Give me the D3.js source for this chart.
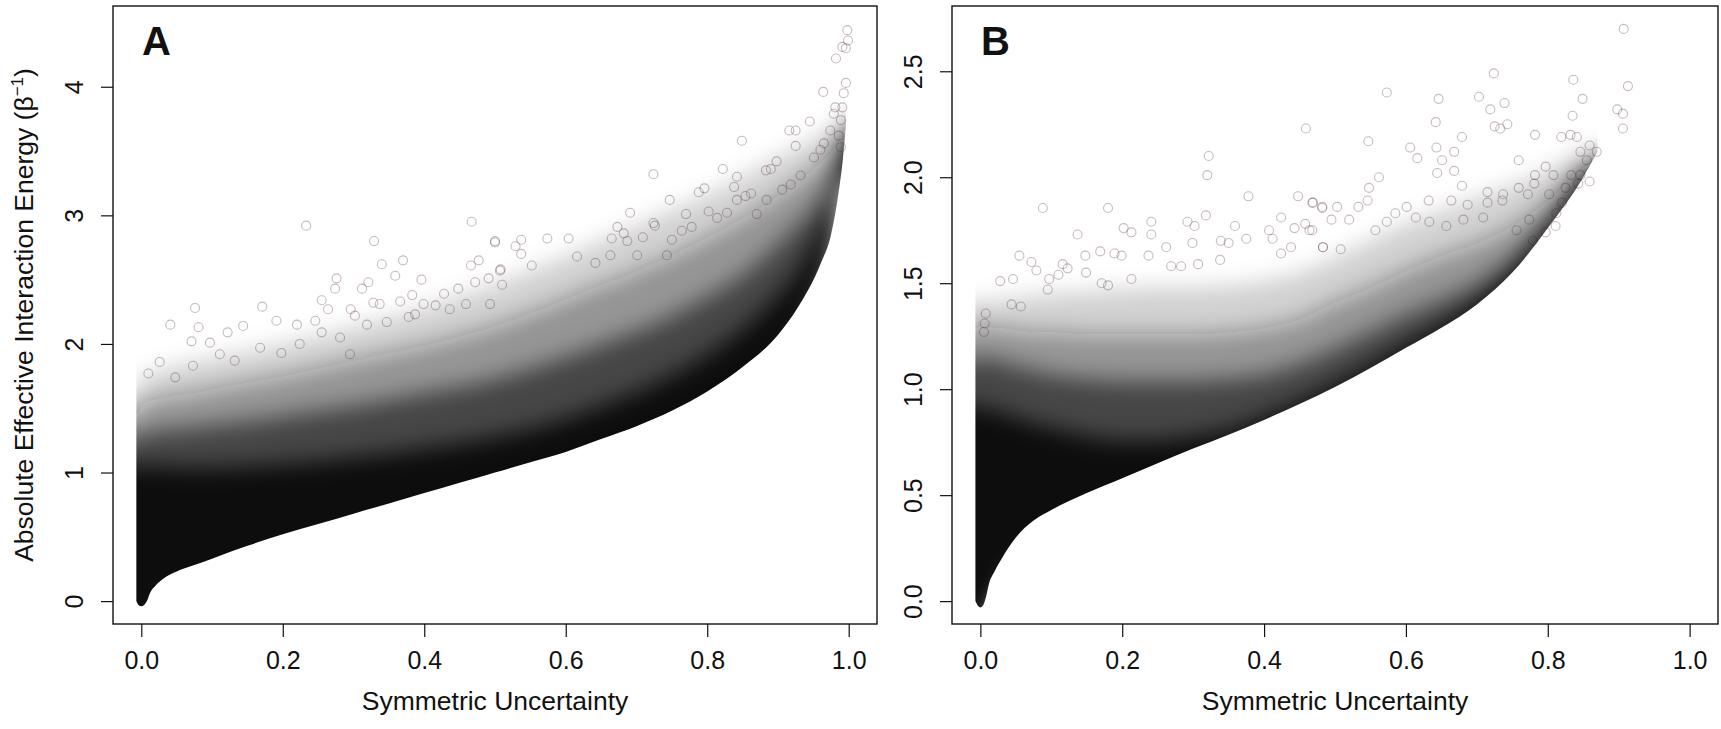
<!DOCTYPE html>
<html lang="en">
<head>
<meta charset="UTF-8">
<title>Symmetric Uncertainty vs Interaction Energy</title>
<script src="https://cdn.jsdelivr.net/npm/d3@7"></script>
<style>
  body { margin: 0; background: #fff; }
  svg text { font-family: "Liberation Sans", Arial, Helvetica, sans-serif; fill: #111; }
</style>
</head>
<body>
<script>
// ---- values ----
const xTicks = [0, 0.2, 0.4, 0.6, 0.8, 1.0];
const yTicksA = [0, 1, 2, 3, 4];
const yTicksB = [0, 0.5, 1.0, 1.5, 2.0, 2.5];

// panel A: point-cloud density bands (lower edge and tops of each density level)
const bandXA  = [-0.007,-0.004,0,0.004,0.008,0.012,0.02,0.03,0.05,0.075,0.1,0.15,0.2,0.25,0.3,0.35,0.4,0.45,0.5,0.55,0.6,0.65,0.7,0.75,0.8,0.85,0.9,0.93,0.96,0.975,0.985,0.992,0.996];
const lowerA  = [0.00,-0.03,-0.04,-0.03,0.00,0.06,0.12,0.17,0.23,0.28,0.33,0.43,0.52,0.60,0.68,0.76,0.84,0.92,1.00,1.08,1.16,1.26,1.36,1.48,1.63,1.82,2.07,2.30,2.62,2.85,3.15,3.45,3.70];
const solidA  = [1.05,1.05,1.05,1.05,1.05,1.05,1.05,1.05,1.04,1.04,1.04,1.05,1.07,1.09,1.12,1.15,1.19,1.23,1.28,1.34,1.42,1.52,1.63,1.76,1.92,2.12,2.38,2.58,2.88,3.06,3.28,3.52,3.72];
const darkA   = [1.25,1.27,1.30,1.30,1.31,1.31,1.32,1.33,1.34,1.35,1.37,1.40,1.44,1.48,1.52,1.57,1.62,1.67,1.73,1.81,1.90,2.00,2.10,2.22,2.37,2.54,2.78,2.94,3.13,3.26,3.41,3.58,3.74];
const midA    = [1.42,1.47,1.52,1.54,1.55,1.56,1.57,1.58,1.60,1.62,1.65,1.70,1.75,1.81,1.87,1.93,1.99,2.06,2.14,2.24,2.35,2.46,2.57,2.69,2.83,2.98,3.15,3.27,3.41,3.49,3.57,3.66,3.76];
const fringeA = [1.60,1.65,1.72,1.74,1.76,1.77,1.78,1.80,1.83,1.86,1.89,1.94,2.00,2.06,2.13,2.20,2.28,2.37,2.46,2.57,2.68,2.80,2.92,3.04,3.16,3.30,3.45,3.53,3.62,3.68,3.72,3.76,3.80];

// panel A: scattered single points above the cloud
const outliersA = [
  [0.233,2.92],[0.467,2.95],[0.329,2.80],[0.500,2.79],[0.340,2.62],[0.370,2.65],[0.359,2.53],[0.477,2.65],
  [0.466,2.61],[0.507,2.57],[0.396,2.50],[0.276,2.51],[0.274,2.43],[0.312,2.43],[0.321,2.48],[0.472,2.48],
  [0.491,2.51],[0.448,2.43],[0.428,2.39],[0.076,2.28],[0.041,2.15],[0.171,2.29],[0.081,2.13],[0.144,2.14],
  [0.191,2.18],[0.026,1.86],[0.010,1.77],[0.071,2.02],[0.097,2.01],[0.122,2.09],[0.220,2.15],[0.246,2.18],
  [0.255,2.34],[0.264,2.27],[0.296,2.27],[0.302,2.22],[0.328,2.32],[0.337,2.31],[0.366,2.33],[0.383,2.38],
  [0.399,2.31],[0.416,2.30],[0.459,2.31],[0.493,2.31],[0.510,2.46],[0.048,1.74],[0.073,1.83],[0.111,1.92],
  [0.132,1.87],[0.168,1.97],[0.198,1.93],[0.224,2.00],[0.255,2.09],[0.281,2.05],[0.295,1.92],[0.319,2.15],
  [0.347,2.17],[0.378,2.21],[0.387,2.23],[0.436,2.27],
  [0.998,4.44],[0.999,4.36],[0.996,4.30],[0.982,4.22],[0.991,4.31],[0.996,4.03],[0.993,3.95],[0.991,3.84],
  [0.964,3.96],[0.981,3.84],[0.979,3.79],[0.945,3.73],[0.989,3.74],[0.916,3.66],[0.925,3.66],[0.974,3.66],
  [0.986,3.62],[0.849,3.58],[0.925,3.54],[0.989,3.53],[0.965,3.56],[0.960,3.51],[0.951,3.45],[0.898,3.42],
  [0.883,3.35],[0.890,3.36],[0.822,3.36],[0.724,3.32],[0.842,3.30],[0.838,3.22],[0.796,3.21],[0.788,3.18],
  [0.862,3.17],[0.854,3.15],[0.842,3.12],[0.747,3.12],[0.884,3.12],[0.906,3.20],[0.918,3.24],[0.932,3.31],
  [0.691,3.02],[0.770,3.01],[0.802,3.03],[0.814,2.98],[0.828,3.02],[0.870,3.01],[0.724,2.94],[0.726,2.92],
  [0.673,2.91],[0.682,2.86],[0.709,2.83],[0.764,2.88],[0.778,2.91],[0.500,2.80],[0.529,2.76],[0.537,2.81],
  [0.574,2.82],[0.604,2.82],[0.665,2.82],[0.537,2.70],[0.750,2.81],[0.616,2.68],[0.687,2.80],[0.701,2.69],
  [0.508,2.58],[0.552,2.61],[0.642,2.63],[0.663,2.69],[0.743,2.69]
];

// panel B: density bands
const bandXB  = [-0.007,-0.004,0,0.004,0.008,0.012,0.02,0.03,0.05,0.075,0.1,0.15,0.2,0.25,0.3,0.35,0.4,0.45,0.5,0.55,0.6,0.65,0.7,0.75,0.8,0.85,0.87];
const lowerB  = [0.00,-0.02,-0.03,-0.02,0.02,0.08,0.14,0.20,0.30,0.38,0.43,0.51,0.58,0.65,0.72,0.785,0.855,0.93,1.01,1.10,1.195,1.29,1.40,1.55,1.76,2.00,2.12];
const solidB  = [0.92,0.92,0.92,0.92,0.92,0.91,0.90,0.89,0.87,0.84,0.82,0.78,0.76,0.76,0.78,0.81,0.87,0.94,1.02,1.11,1.21,1.30,1.41,1.56,1.76,2.00,2.12];
const darkB   = [1.13,1.14,1.15,1.15,1.15,1.15,1.14,1.13,1.11,1.09,1.07,1.05,1.04,1.04,1.04,1.05,1.07,1.12,1.19,1.27,1.35,1.42,1.50,1.62,1.80,2.01,2.12];
const midB    = [1.28,1.29,1.30,1.30,1.30,1.30,1.29,1.29,1.28,1.27,1.27,1.26,1.26,1.26,1.26,1.27,1.29,1.33,1.41,1.48,1.56,1.63,1.69,1.77,1.89,2.05,2.13];
const fringeB = [1.40,1.41,1.42,1.42,1.42,1.42,1.42,1.42,1.43,1.44,1.45,1.46,1.47,1.48,1.48,1.49,1.51,1.55,1.62,1.70,1.78,1.84,1.90,1.96,2.03,2.12,2.16];

const outliersB = [
  [0.322,2.10],[0.320,2.01],[0.088,1.855],[0.180,1.855],[0.378,1.91],[0.448,1.91],[0.468,1.88],[0.482,1.855],
  [0.503,1.86],[0.495,1.80],[0.424,1.81],[0.318,1.82],[0.292,1.79],[0.302,1.77],[0.241,1.79],[0.241,1.73],
  [0.202,1.76],[0.213,1.74],[0.137,1.73],[0.359,1.77],[0.375,1.71],[0.407,1.75],[0.412,1.71],[0.443,1.76],
  [0.458,1.78],[0.464,1.75],[0.483,1.67],[0.438,1.67],[0.424,1.64],[0.339,1.70],[0.350,1.69],[0.299,1.69],
  [0.262,1.67],[0.169,1.65],[0.148,1.63],[0.055,1.63],[0.189,1.64],[0.199,1.63],[0.237,1.63],[0.072,1.60],
  [0.116,1.59],[0.123,1.57],[0.079,1.56],[0.046,1.52],[0.028,1.51],[0.097,1.52],[0.110,1.54],[0.149,1.55],
  [0.0075,1.357],[0.006,1.31],[0.005,1.27],[0.044,1.40],[0.057,1.39],[0.095,1.47],[0.171,1.50],[0.180,1.49],
  [0.213,1.52],[0.283,1.58],[0.269,1.58],[0.307,1.59],[0.338,1.61],
  [0.907,2.70],[0.913,2.43],[0.898,2.32],[0.906,2.30],[0.906,2.23],[0.836,2.46],[0.849,2.37],[0.835,2.29],
  [0.724,2.49],[0.703,2.38],[0.719,2.32],[0.739,2.35],[0.743,2.25],[0.725,2.24],[0.733,2.23],[0.646,2.37],
  [0.642,2.26],[0.573,2.40],[0.459,2.23],[0.547,2.17],[0.679,2.19],[0.643,2.14],[0.668,2.12],[0.782,2.20],
  [0.819,2.19],[0.832,2.20],[0.841,2.19],[0.859,2.15],[0.869,2.12],[0.846,2.12],[0.855,2.08],[0.759,2.08],
  [0.797,2.05],[0.782,2.01],[0.808,2.01],[0.833,2.01],[0.846,2.01],[0.859,1.98],[0.843,1.97],[0.606,2.14],
  [0.616,2.09],[0.651,2.08],[0.668,2.03],[0.644,2.02],[0.562,2.00],[0.548,1.95],[0.679,1.96],[0.715,1.93],
  [0.737,1.92],[0.759,1.95],[0.772,1.92],[0.781,1.97],[0.802,1.92],[0.825,1.95],[0.469,1.88],[0.482,1.86],
  [0.533,1.86],[0.546,1.89],[0.585,1.83],[0.601,1.86],[0.632,1.89],[0.664,1.89],[0.687,1.87],[0.715,1.88],
  [0.736,1.89],[0.820,1.88],[0.812,1.83],[0.468,1.75],[0.483,1.67],[0.508,1.66],[0.520,1.80],[0.557,1.75],
  [0.573,1.79],[0.614,1.81],[0.633,1.79],[0.657,1.77],[0.681,1.80],[0.709,1.81],[0.756,1.75],[0.774,1.80],
  [0.797,1.74],[0.811,1.77],[0.779,1.70]
];

// ---- drawing ----
const width = 1721, height = 729;
const ink = '#111111';

const svg = d3.select('body').append('svg')
  .attr('width', width)
  .attr('height', height);

const defs = svg.append('defs');
defs.append('filter').attr('id', 'soft')
  .attr('x', '-10%').attr('y', '-15%').attr('width', '120%').attr('height', '130%')
  .append('feGaussianBlur').attr('stdDeviation', 11);

function drawPanel(p) {
  const g = svg.append('g').attr('transform', `translate(${p.left},${p.top})`);
  const x = d3.scaleLinear().domain([-0.04, 1.04]).range([0, p.w]);
  const y = d3.scaleLinear().domain(p.yDomain).range([p.h, 0]);

  const rows = p.bandX.map((v, i) => ({
    x: v, lower: p.lower[i], solid: p.solid[i], dark: p.dark[i], mid: p.mid[i], fringe: p.fringe[i]
  }));
  const last = rows.length - 1;

  // keep the lower edge crisp: clip blurred bands to the region above it
  const clipId = 'clip' + p.id;
  defs.append('clipPath').attr('id', clipId)
    .append('path')
    .attr('d', d3.area()
      .x(d => x(d.x))
      .y0(d => y(d.lower))
      .y1(0)
      .curve(d3.curveMonotoneX)(rows));

  const bands = g.append('g').attr('clip-path', `url(#${clipId})`)
    .append('g').attr('filter', 'url(#soft)');

  // pad the areas past the clip so the blur doesn't fade the edges
  const pad = 36;
  const px = (d, i) => x(d.x) - (i === 0 ? pad : 0) + (i === last ? pad : 0);
  [['fringe', 0.18], ['mid', 0.34], ['dark', 0.58], ['solid', 1]].forEach(([k, op]) => {
    bands.append('path')
      .attr('d', d3.area()
        .x(px)
        .y0(d => y(d.lower) + pad)
        .y1(d => y(d[k]))
        .curve(d3.curveMonotoneX)(rows))
      .attr('fill', ink)
      .attr('fill-opacity', op);
  });

  // single points
  g.append('g').selectAll('circle')
    .data(p.outliers)
    .enter()
    .append('circle')
    .attr('cx', d => x(d[0]))
    .attr('cy', d => y(d[1]))
    .attr('r', 4.5)
    .attr('fill', 'none')
    .attr('stroke', 'rgb(70,30,30)')
    .attr('stroke-opacity', 0.3)
    .attr('stroke-width', 1.1);

  // axes
  const xAxis = g.append('g')
    .attr('transform', `translate(0,${p.h})`)
    .call(d3.axisBottom(x).tickValues(xTicks).tickSize(13).tickFormat(d3.format('.1f')));
  xAxis.select('.domain').remove();
  xAxis.selectAll('line').attr('stroke', '#111').attr('stroke-width', 1.2);
  xAxis.selectAll('text')
    .attr('y', 45).attr('dy', 0)
    .attr('font-size', 25)
    .attr('fill', '#111');

  const yAxis = g.append('g')
    .call(d3.axisLeft(y).tickValues(p.yTicks).tickSize(12).tickFormat(p.yFormat));
  yAxis.select('.domain').remove();
  yAxis.selectAll('line').attr('stroke', '#111').attr('stroke-width', 1.2);
  yAxis.selectAll('text')
    .attr('x', 0).attr('dy', 0)
    .attr('text-anchor', 'middle')
    .attr('transform', 'translate(-30,0) rotate(-90)')
    .attr('font-size', 25)
    .attr('fill', '#111');

  // box
  g.append('rect')
    .attr('width', p.w).attr('height', p.h)
    .attr('fill', 'none')
    .attr('stroke', '#111')
    .attr('stroke-width', 1.4);

  // panel letter
  g.append('text')
    .attr('x', 29).attr('y', 49)
    .attr('font-family', '"Liberation Serif", "Times New Roman", serif')
    .attr('font-weight', 'bold')
    .attr('font-size', 40)
    .text(p.letter);

  // x title
  g.append('text')
    .attr('x', p.w / 2).attr('y', 710 - p.top)
    .attr('text-anchor', 'middle')
    .attr('font-size', 26.5)
    .text('Symmetric Uncertainty');
}

drawPanel({
  id: 'A', letter: 'A', left: 113, top: 6, w: 764, h: 618,
  yDomain: [-0.178, 4.628], yTicks: yTicksA, yFormat: d3.format('d'),
  bandX: bandXA, lower: lowerA, solid: solidA, dark: darkA, mid: midA, fringe: fringeA,
  outliers: outliersA
});

drawPanel({
  id: 'B', letter: 'B', left: 952, top: 6, w: 766, h: 618,
  yDomain: [-0.108, 2.808], yTicks: yTicksB, yFormat: d3.format('.1f'),
  bandX: bandXB, lower: lowerB, solid: solidB, dark: darkB, mid: midB, fringe: fringeB,
  outliers: outliersB
});

// y title (panel A)
const yTitle = svg.append('text')
  .attr('transform', 'translate(33,315) rotate(-90)')
  .attr('text-anchor', 'middle')
  .attr('font-size', 26.5);
yTitle.append('tspan').text('Absolute Effective Interaction Energy (β');
yTitle.append('tspan').attr('font-size', 17).attr('dy', -10).text('−1');
yTitle.append('tspan').attr('dy', 10).text(')');
</script>
</body>
</html>
